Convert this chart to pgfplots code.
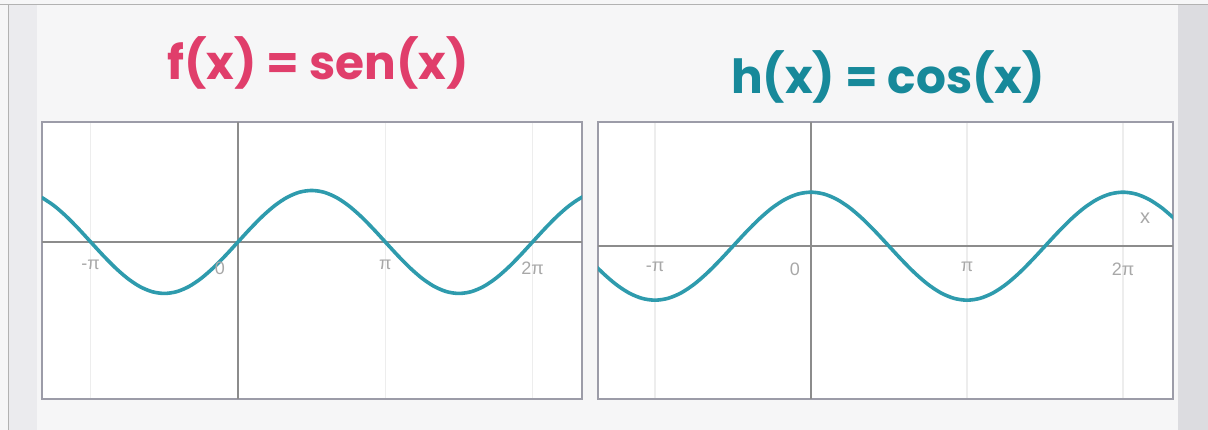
\documentclass[border=0pt]{standalone}
\usepackage{pgfplots}
\pgfplotsset{compat=1.18}
\usepackage{fontspec}
\setmainfont{Liberation Sans}
\newfontfamily\titlefont{Poppins}
\definecolor{bgc}{HTML}{F6F6F7}
\definecolor{stripL}{HTML}{EBEBEE}
\definecolor{stripR}{HTML}{DCDCE0}
\definecolor{framec}{HTML}{9C9CA8}
\definecolor{zeroc}{HTML}{8C8C8C}
\definecolor{gridc}{HTML}{EDEDED}
\definecolor{curvec}{HTML}{2E9BAD}
\definecolor{pinkc}{HTML}{E03E6B}
\definecolor{tealc}{HTML}{17899A}
\definecolor{tickc}{HTML}{A8A8A8}
\pgfplotstableread{
x y
-4.1888 0.8660
-3.9270 0.7071
-3.6652 0.5
-3.4034 0.2588
-3.1416 0
-2.8798 -0.2588
-2.6180 -0.5
-2.3562 -0.7071
-2.0944 -0.8660
-1.8326 -0.9659
-1.5708 -1
-1.3090 -0.9659
-1.0472 -0.8660
-0.7854 -0.7071
-0.5236 -0.5
-0.2618 -0.2588
0 0
0.2618 0.2588
0.5236 0.5
0.7854 0.7071
1.0472 0.8660
1.3090 0.9659
1.5708 1
1.8326 0.9659
2.0944 0.8660
2.3562 0.7071
2.6180 0.5
2.8798 0.2588
3.1416 0
3.4034 -0.2588
3.6652 -0.5
3.9270 -0.7071
4.1888 -0.8660
4.4506 -0.9659
4.7124 -1
4.9742 -0.9659
5.2360 -0.8660
5.4978 -0.7071
5.7596 -0.5
6.0214 -0.2588
6.2832 0
6.5450 0.2588
6.8068 0.5
7.0686 0.7071
7.3304 0.8660
7.5922 0.9659
}\sintable
\pgfplotstableread{
x y
-4.4506 -0.2588
-4.1888 -0.5
-3.9270 -0.7071
-3.6652 -0.8660
-3.4034 -0.9659
-3.1416 -1
-2.8798 -0.9659
-2.6180 -0.8660
-2.3562 -0.7071
-2.0944 -0.5
-1.8326 -0.2588
-1.5708 0
-1.3090 0.2588
-1.0472 0.5
-0.7854 0.7071
-0.5236 0.8660
-0.2618 0.9659
0 1
0.2618 0.9659
0.5236 0.8660
0.7854 0.7071
1.0472 0.5
1.3090 0.2588
1.5708 0
1.8326 -0.2588
2.0944 -0.5
2.3562 -0.7071
2.6180 -0.8660
2.8798 -0.9659
3.1416 -1
3.4034 -0.9659
3.6652 -0.8660
3.9270 -0.7071
4.1888 -0.5
4.4506 -0.2588
4.7124 0
4.9742 0.2588
5.2360 0.5
5.4978 0.7071
5.7596 0.8660
6.0214 0.9659
6.2832 1
6.5450 0.9659
6.8068 0.8660
7.0686 0.7071
7.3304 0.5
}\costable
\pgfplotsset{
  trig/.style={
    scale only axis,
    height=277pt,
    axis line style={framec, line width=1.8pt},
    xtick={-3.1416,3.1416,6.2832},
    ytick=\empty,
    xticklabels={},
    major tick length=0pt,
    xmajorgrids,
    major grid style={gridc, line width=1.5pt},
    extra x ticks={0},
    extra x tick labels={},
    extra x tick style={grid=major, major grid style={zeroc, line width=1.8pt}},
    extra y ticks={0},
    extra y tick labels={},
    extra y tick style={grid=major, major grid style={zeroc, line width=1.8pt}},
    axis background/.style={fill=white},
  },
}
\tikzset{tl/.style={font=\fontsize{18}{18}\selectfont, text=tickc}}
\begin{document}
\begin{tikzpicture}[x=1pt,y=1pt]
\useasboundingbox (0,0) rectangle (1208,430);
\fill[bgc] (0,0) rectangle (1208,430);
\fill[stripL] (8,0) rectangle (37,425);
\fill[stripR] (1178,0) rectangle (1208,425);
\draw[gray!60, line width=1pt] (0,425) -- (1208,425);
\draw[gray!60, line width=1pt] (8,0) -- (8,425);
\node[anchor=base, text=pinkc, font=\titlefont\bfseries\fontsize{47}{47}\selectfont] at (318,350) {f(x) = sen(x)};
\node[anchor=base, text=tealc, font=\titlefont\bfseries\fontsize{47}{47}\selectfont] at (888,336) {h(x) = cos(x)};
\begin{axis}[trig, at={(42pt,31pt)}, anchor=south west, width=540pt,
  xmin=-4.180, xmax=7.337, ymin=-3.05, ymax=2.33]
  \addplot[curvec, line width=3.6pt, smooth] table {\sintable};
  \node[tl] at (axis cs:-3.1416,0) [yshift=-23pt] {-π};
  \node[tl] at (axis cs:0,0) [xshift=-18pt, yshift=-26pt] {0};
  \node[tl] at (axis cs:3.1416,0) [yshift=-23pt] {π};
  \node[tl] at (axis cs:6.2832,0) [yshift=-26pt] {2π};
\end{axis}
\begin{axis}[trig, at={(598pt,31pt)}, anchor=south west, width=575pt,
  xmin=-4.289, xmax=7.290, ymin=-2.83, ymax=2.30]
  \addplot[curvec, line width=3.6pt, smooth] table {\costable};
  \node[tl] at (axis cs:-3.1416,0) [yshift=-21pt] {-π};
  \node[tl] at (axis cs:0,0) [xshift=-16pt, yshift=-23pt] {0};
  \node[tl] at (axis cs:3.1416,0) [yshift=-21pt] {π};
  \node[tl] at (axis cs:6.2832,0) [yshift=-23pt] {2π};
  \node[tl, font=\fontsize{20}{20}\selectfont] at (axis cs:6.73,0.52) {x};
\end{axis}
\end{tikzpicture}
\end{document}
